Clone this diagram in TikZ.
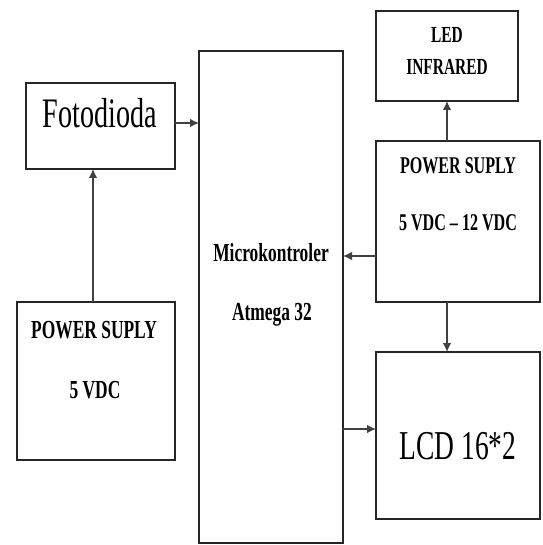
\documentclass[tikz,border=0pt]{standalone}
\usepackage{fontspec}
\setmainfont{Liberation Serif}
\usetikzlibrary{arrows.meta}
\newcommand{\sqz}[2]{\scalebox{0.67}[1]{\fontsize{#1}{#1}\selectfont #2}}
\begin{document}
\begin{tikzpicture}[x=1pt,y=-1pt,
  box/.style={draw=black!85, line width=1.4pt, inner sep=0pt, outer sep=0pt},
  arr/.style={draw=black!75, line width=1.3pt, -{Latex[length=9pt,width=8.5pt]}},
  lbl/.style={anchor=base, inner sep=0pt, outer sep=0pt}]
\useasboundingbox[fill=white] (0,0) rectangle (542,545);
% boxes
\node[box, minimum width=149pt, minimum height=86pt] (foto) at (100.5,126) {};
\node[box, minimum width=144pt, minimum height=492pt] (micro) at (271,297) {};
\node[box, minimum width=142pt, minimum height=90pt] (led) at (447,56) {};
\node[box, minimum width=164pt, minimum height=161pt] (psr) at (458,221.5) {};
\node[box, minimum width=164pt, minimum height=167pt] (lcd) at (458,435.5) {};
\node[box, minimum width=158pt, minimum height=158pt] (psl) at (96,381) {};
% texts
\node[lbl] (tfoto) at (100,128) {\sqz{42}{Fotodioda}};
\node[lbl] (tmic1) at (271,261) {\sqz{26}{\bfseries Microkontroler}};
\node[lbl] (tmic2) at (272,320) {\sqz{26}{\bfseries Atmega 32}};
\node[lbl] (tled1) at (447,43) {\sqz{23}{\bfseries LED}};
\node[lbl] (tled2) at (447,75) {\sqz{23}{\bfseries INFRARED}};
\node[lbl] (tpsr1) at (458,174) {\sqz{24}{\bfseries POWER SUPLY}};
\node[lbl] (tpsr2) at (458,230) {\sqz{24}{\bfseries 5 VDC – 12 VDC}};
\node[lbl] (tlcd) at (458,459) {\sqz{41}{LCD 16*2}};
\node[lbl] (tpsl1) at (94,338) {\sqz{26}{\bfseries POWER SUPLY}};
\node[lbl] (tpsl2) at (95,398) {\sqz{26}{\bfseries 5 VDC}};
% helper coordinates
\coordinate (xa) at (93,0);
\coordinate (ya) at (0,123);
\coordinate (yb) at (0,256);
\coordinate (yc) at (0,429);
% connectors
\draw[arr] (psl.north -| xa) -- (foto.south -| xa);
\draw[arr] (foto.east |- ya) -- (micro.west |- ya);
\draw[arr] (psr.north -| led.south) -- (led.south);
\draw[arr] (psr.west |- yb) -- (micro.east |- yb);
\draw[arr] (psr.south -| led.south) -- (lcd.north -| led.south);
\draw[arr] (micro.east |- yc) -- (lcd.west |- yc);
\end{tikzpicture}
\end{document}
